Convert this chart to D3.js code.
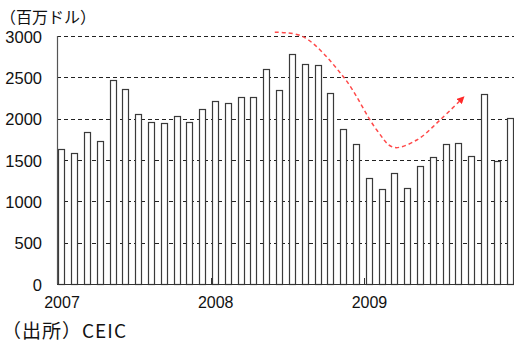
<!DOCTYPE html>
<html><head><meta charset="utf-8">
<script src="https://cdn.jsdelivr.net/npm/d3@7/dist/d3.min.js"></script>
<style>
html,body{margin:0;padding:0;background:#fff;}
svg{display:block;}
text{font-family:"Liberation Sans","Noto Sans CJK JP",sans-serif;fill:#111;}
.jp{font-family:"Noto Sans CJK JP",sans-serif;}
</style></head>
<body>
<svg id="chart" width="514" height="347"></svg>
<script>
const months = d3.range(36).map(i => new Date(2007 + Math.floor(i / 12), i % 12, 1));
const values = [1630,1585,1843,1730,2464,2359,2060,1960,1944,2036,1960,2113,
                2210,2193,2258,2258,2605,2347,2786,2657,2645,2310,1871,1690,
                1278,1145,1343,1161,1423,1540,1690,1706,1548,2295,1488,2012];
const yTicks = [0,500,1000,1500,2000,2500,3000];
const yearLabels = ["2007","2008","2009"];
const unitLabel = "（百万ドル）";
const sourceLabel = "（出所）CEIC";
// trend annotation in data space: [month index, value]
const trend = [[17.0,3045],[19.2,2992],[22.35,2508],[24.96,1863],[26.25,1654],[28.08,1742],[29.9,1984],[31.6,2240]];

const svg = d3.select("#chart");
const x = d3.scaleLinear().domain([0, 36]).range([57, 518.2]);
const y = d3.scaleLinear().domain([0, 3000]).range([284, 36]);

// gridlines
svg.append("g").selectAll("line").data(yTicks.filter(d => d > 0)).join("line")
  .attr("x1", 57).attr("x2", 514)
  .attr("y1", d => Math.round(y(d)) + 0.5).attr("y2", d => Math.round(y(d)) + 0.5)
  .attr("stroke", "#222").attr("stroke-width", 1).attr("stroke-dasharray", "4,3");

// bars
svg.append("g").selectAll("rect").data(values).join("rect")
  .attr("x", (d, i) => Math.round(x(i) + 1.3) + 0.5)
  .attr("y", d => Math.round(y(d)) + 0.5)
  .attr("width", 6)
  .attr("height", d => Math.round(y(0)) - Math.round(y(d)))
  .attr("fill", "#fff").attr("stroke", "#3a3a3a").attr("stroke-width", 1.2);

// axes
svg.append("line").attr("x1", 57.5).attr("x2", 57.5).attr("y1", y(3000)).attr("y2", y(0))
  .attr("stroke", "#555").attr("stroke-width", 1.2);
svg.append("line").attr("x1", 57).attr("x2", 514).attr("y1", y(0) + 0.5).attr("y2", y(0) + 0.5)
  .attr("stroke", "#333").attr("stroke-width", 1.2);
// year ticks
svg.append("g").selectAll("line").data([12, 24]).join("line")
  .attr("x1", d => Math.round(x(d)) + 0.5).attr("x2", d => Math.round(x(d)) + 0.5)
  .attr("y1", y(0)).attr("y2", y(0) - 6)
  .attr("stroke", "#333").attr("stroke-width", 1);

// y labels
svg.append("g").selectAll("text").data(yTicks).join("text")
  .attr("x", 42).attr("y", d => y(d) + 6.5)
  .attr("text-anchor", "end").attr("font-size", 16.5)
  .text(d => d);

// x labels
svg.append("g").selectAll("text").data(yearLabels).join("text")
  .attr("x", (d, i) => x(i * 12) + 5).attr("y", 308)
  .attr("text-anchor", "middle").attr("font-size", 16)
  .text(d => d);

svg.append("text").attr("class", "jp").attr("x", 0).attr("y", 23).attr("font-size", 16).text(unitLabel);
svg.append("text").attr("class", "jp").attr("x", 2).attr("y", 338).attr("font-size", 19)
  .attr("letter-spacing", 1).text(sourceLabel);

// trend arrow
const defs = svg.append("defs");
defs.append("marker").attr("id", "ah").attr("viewBox", "0 0 10 10")
  .attr("refX", 5).attr("refY", 5).attr("markerWidth", 5).attr("markerHeight", 5)
  .attr("orient", "auto")
  .append("path").attr("d", "M0,0 L10,5 L0,10 Z").attr("fill", "#ff2a2a");
svg.append("path")
  .attr("d", d3.line().x(d => x(d[0])).y(d => y(d[1])).curve(d3.curveCatmullRom)(trend))
  .attr("fill", "none").attr("stroke", "#ff4a4a").attr("stroke-width", 1.5)
  .attr("stroke-dasharray", "4,3").attr("marker-end", "url(#ah)");
</script>
</body></html>
